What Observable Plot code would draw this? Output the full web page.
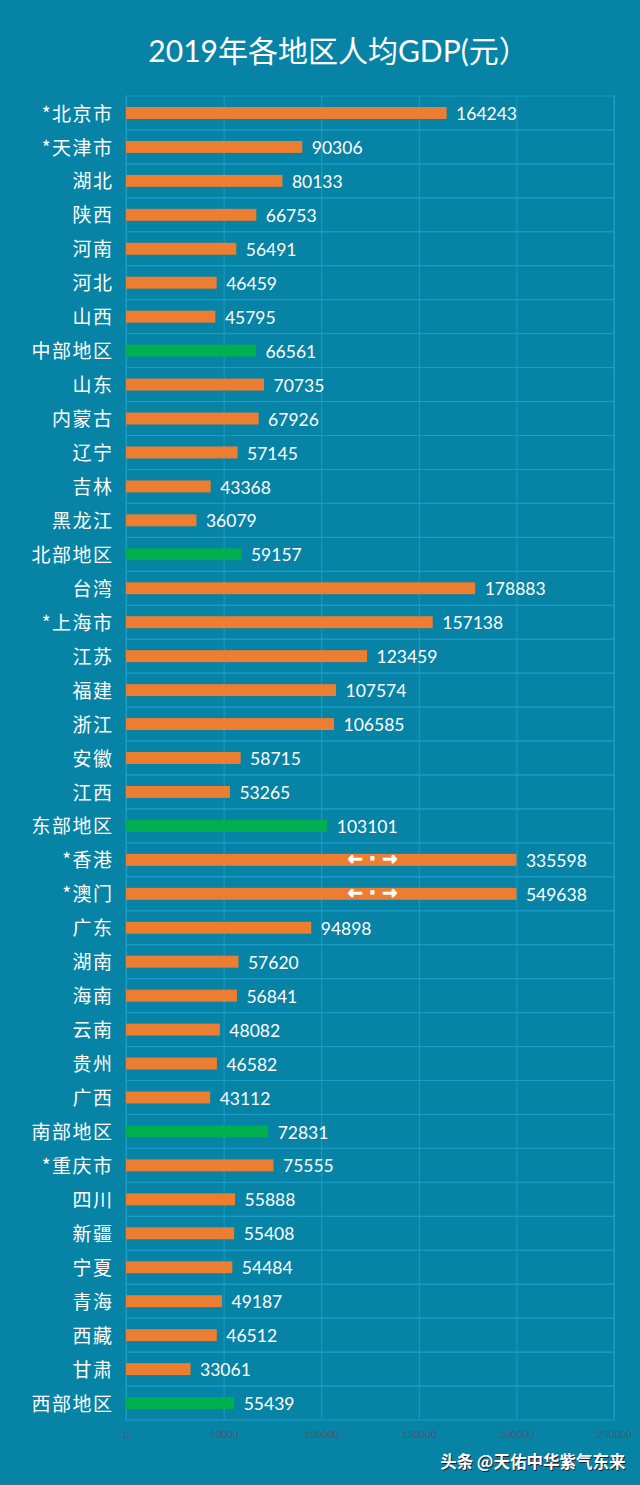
<!DOCTYPE html>
<html>
<head>
<meta charset="utf-8">
<script src="https://cdn.jsdelivr.net/npm/d3@7"></script>
<script src="https://cdn.jsdelivr.net/npm/@observablehq/plot@0.6"></script>
<style>
  html, body { margin: 0; padding: 0; background: #0783A6; }
  #chart svg { display: block; }
</style>
</head>
<body>
<div id="chart"></div>
<script>
const title = "2019年各地区人均GDP(元）";
const watermark = "头条 @天佑中华紫气东来";
const regions = ["*北京市","*天津市","湖北","陕西","河南","河北","山西","中部地区",
  "山东","内蒙古","辽宁","吉林","黑龙江","北部地区",
  "台湾","*上海市","江苏","福建","浙江","安徽","江西","东部地区",
  "*香港","*澳门","广东","湖南","海南","云南","贵州","广西","南部地区",
  "*重庆市","四川","新疆","宁夏","青海","西藏","甘肃","西部地区"];
const gdp = [164243,90306,80133,66753,56491,46459,45795,66561,
  70735,67926,57145,43368,36079,59157,
  178883,157138,123459,107574,106585,58715,53265,103101,
  335598,549638,94898,57620,56841,48082,46582,43112,72831,
  75555,55888,55408,54484,49187,46512,33061,55439];
const summaryRows = ["中部地区","北部地区","东部地区","南部地区","西部地区"];
const brokenRows = ["*香港","*澳门"];
const xTicks = [0,50000,100000,150000,200000,250000];
const axisMax = 250000;
const breakAt = 200000;
const breakMarkAt = 126000;

const data = regions.map((r, i) => ({
  region: r,
  value: gdp[i],
  shown: Math.min(gdp[i], breakAt),
  summary: summaryRows.includes(r),
  broken: brokenRows.includes(r)
}));

const font = "Lato, 'Noto Sans CJK SC', sans-serif";
const cjk = "'Noto Sans CJK SC', sans-serif";
const grid = "#1B9DC8";

const chart = Plot.plot({
  width: 640,
  height: 1485,
  marginLeft: 126,
  marginRight: 26,
  marginTop: 96,
  marginBottom: 65,
  style: { background: "#0783A6", fontFamily: font, overflow: "visible" },
  x: { domain: [0, axisMax], ticks: xTicks, tickFormat: d => String(d), label: null },
  y: { domain: regions, padding: 0, label: null },
  marks: [
    Plot.barX(regions, { x1: 0, x2: axisMax, y: d => d, fill: "none", stroke: grid, strokeWidth: 1 }),
    Plot.ruleX(xTicks, { stroke: grid, strokeWidth: 1 }),
    Plot.barX(data, { x: "shown", y: "region", fill: d => d.summary ? "#00B050" : "#ED7D31", insetTop: 11, insetBottom: 11 }),
    Plot.text(data.filter(d => d.broken), { x: breakMarkAt, y: "region", text: () => "← · →", fill: "white", stroke: "white", strokeWidth: 0.8, fontSize: 18, fontWeight: "bold", fontFamily: "'DejaVu Sans', sans-serif", dy: -1 }),
    Plot.text(data, { x: "shown", y: "region", text: d => String(d.value), textAnchor: "start", dx: 9, dy: 1, fill: "white", fontSize: 17.5, fontFamily: font }),
    Plot.axisY({ tickSize: 0, tickPadding: 13, fontSize: 19, color: "white", fontFamily: cjk, textStroke: "none", dy: 1 }),
    Plot.axisX({ ticks: xTicks, tickSize: 0, tickPadding: 10, fontSize: 10, color: "#4D5A66", tickFormat: d => String(d) }),
    Plot.text([title], { frameAnchor: "top", lineAnchor: "middle", dy: -44, dx: -32, fill: "white", fontSize: 30, fontFamily: font }),
    Plot.text([watermark], { frameAnchor: "bottom-right", textAnchor: "end", lineAnchor: "middle", dx: 12, dy: 43, fill: "#222", fontSize: 16.5, fontWeight: "bold", fontFamily: cjk }),
    Plot.text([watermark], { frameAnchor: "bottom-right", textAnchor: "end", lineAnchor: "middle", dx: 11, dy: 42, fill: "white", fontSize: 16.5, fontWeight: "bold", fontFamily: cjk })
  ]
});

// wider letter spacing for category labels, as in the reference
chart.querySelectorAll("g[aria-label='y-axis tick label'] text").forEach(t => t.setAttribute("letter-spacing", "1.5"));
document.getElementById("chart").appendChild(chart);
</script>
</body>
</html>
